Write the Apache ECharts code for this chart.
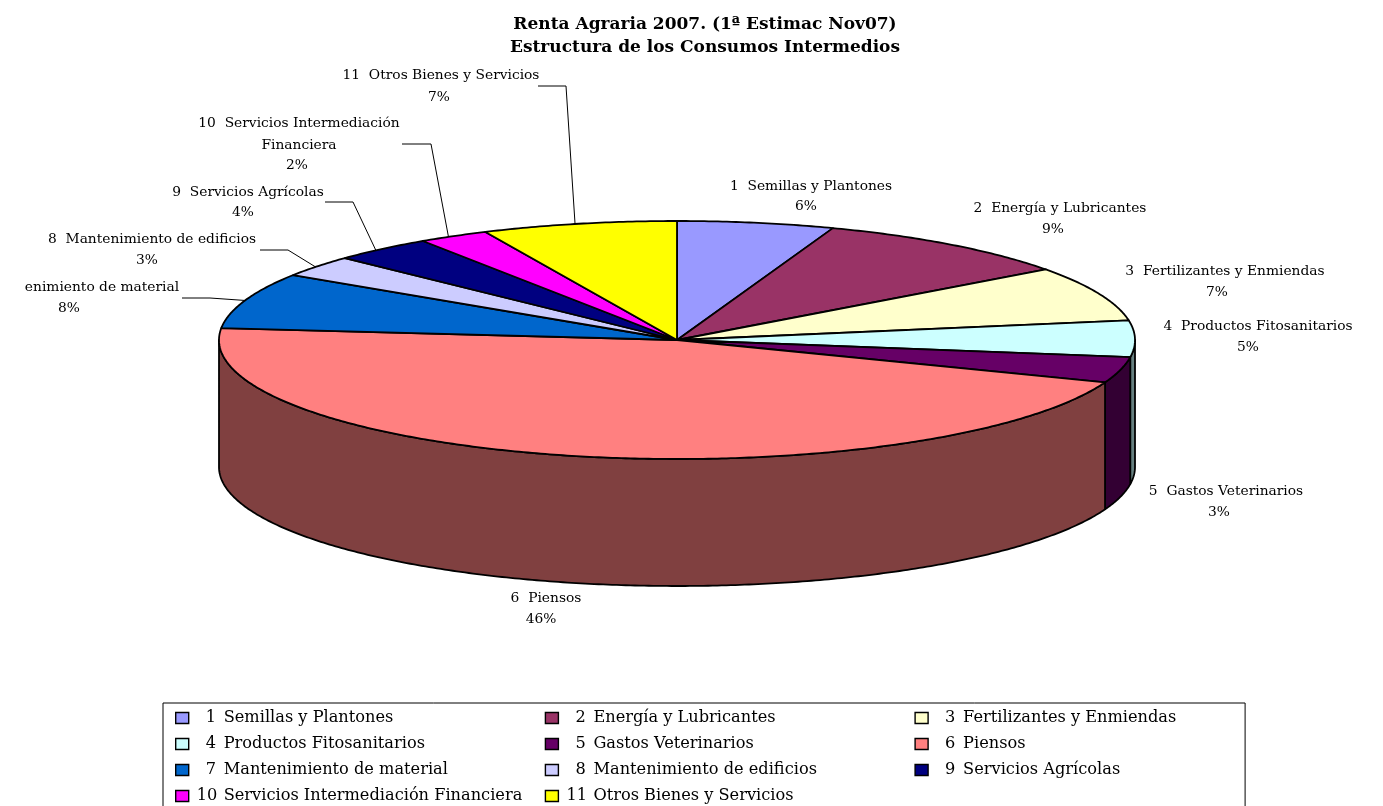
<!DOCTYPE html>
<html>
<head>
<meta charset="utf-8">
<title>Renta Agraria 2007</title>
<style>
    html, body { margin: 0; padding: 0; background: #fff; }
    #main { width: 1383px; height: 806px; }
</style>
<script src="https://cdn.jsdelivr.net/npm/echarts@6/dist/echarts.min.js"></script>
</head>
<body>
<div id="main"></div>
<script>
var numbers = ['1', '2', '3', '4', '5', '6', '7', '8', '9', '10', '11'];
var categories = [
    'Semillas y Plantones', 'Energía y Lubricantes', 'Fertilizantes y Enmiendas',
    'Productos Fitosanitarios', 'Gastos Veterinarios', 'Piensos',
    'Mantenimiento de material', 'Mantenimiento de edificios', 'Servicios Agrícolas',
    'Servicios Intermediación Financiera', 'Otros Bienes y Servicios'
];
var values = [5.53, 9.37, 7.45, 4.95, 3.49, 45.8, 7.6, 2.9, 3.55, 2.49, 6.87];
var colors = ['#9999FF', '#993366', '#FFFFCC', '#CCFFFF', '#660066', '#FF8080',
    '#0066CC', '#CCCCFF', '#000080', '#FF00FF', '#FFFF00'];
var wallColors = ['#4D4D80', '#4D1A33', '#808066', '#668080', '#330033', '#804040',
    '#003366', '#666680', '#000040', '#800080', '#808000'];

// text as it shows next to each slice (7 is cut off by the chart edge in the picture)
var sliceLabels = [
    ['1  Semillas y Plantones'], ['2  Energía y Lubricantes'], ['3  Fertilizantes y Enmiendas'],
    ['4  Productos Fitosanitarios'], ['5  Gastos Veterinarios'], ['6  Piensos'],
    ['enimiento de material'], ['8  Mantenimiento de edificios'], ['9  Servicios Agrícolas'],
    ['10  Servicios Intermediación', 'Financiera'], ['11  Otros Bienes y Servicios']
];

// pie geometry
var cx = 677, cy = 340, rx = 458, ry = 119, depth = 127;
var serif = '"DejaVu Serif", serif';

// label layout: x of name, x of percent, y of each line, leader start + elbow, where it meets the rim
var labelLayout = [
    { x: 811, px: 806, y: [186, 206] },
    { x: 1060, px: 1053, y: [208, 229] },
    { x: 1225, px: 1217, y: [271, 292] },
    { x: 1258, px: 1248, y: [326, 347] },
    { x: 1226, px: 1219, y: [491, 512] },
    { x: 546, px: 541, y: [598, 619] },
    { x: 102, px: 69, y: [287, 308], leader: [[182, 298], [210, 298]], at: 0.5 },
    { x: 152, px: 147, y: [239, 260], leader: [[260, 250], [288, 250]], at: 0.46 },
    { x: 248, px: 243, y: [192, 212], leader: [[325, 202], [353, 202]], at: 0.42 },
    { x: 299, px: 297, y: [123, 145, 165], leader: [[402, 144], [431, 144]], at: 0.42 },
    { x: 441, px: 439, y: [75, 97], leader: [[538, 86], [566, 86]], at: 0.48 }
];

var total = values.reduce(function (a, b) { return a + b; }, 0);
var starts = [];
values.reduce(function (sum, v, i) { starts[i] = sum; return sum + v; }, 0);

function toAngle(v) {
    return v / total * Math.PI * 2;
}

function edgePoint(a, drop) {
    return [cx + rx * Math.sin(a), cy - ry * Math.cos(a) + (drop || 0)];
}

function arcPoints(a0, a1, drop) {
    var pts = [];
    var n = Math.max(2, Math.ceil((a1 - a0) / 0.01));
    for (var k = 0; k <= n; k++) {
        pts.push(edgePoint(a0 + (a1 - a0) * k / n, drop));
    }
    return pts;
}

function textEl(text, x, y) {
    return {
        type: 'text',
        style: {
            x: x, y: y, text: text, fill: '#000',
            fontFamily: serif, fontSize: 13.8,
            textAlign: 'center', textVerticalAlign: 'middle'
        }
    };
}

function renderSlice(i, params, api) {
    var a0 = toAngle(starts[i]);
    var a1 = toAngle(starts[i] + api.value(0));
    var children = [];
    var lineStyle = { stroke: '#000', lineWidth: 1.8, lineJoin: 'round' };

    // outer wall, only the front half of the ring is visible
    var w0 = Math.max(a0, Math.PI / 2), w1 = Math.min(a1, Math.PI * 1.5);
    if (w1 > w0) {
        children.push({
            type: 'polygon',
            shape: { points: arcPoints(w0, w1, 0).concat(arcPoints(w0, w1, depth).reverse()) },
            style: Object.assign({ fill: wallColors[i] }, lineStyle)
        });
    }

    // top face
    children.push({
        type: 'polygon',
        shape: { points: [[cx, cy]].concat(arcPoints(a0, a1, 0)) },
        style: Object.assign({ fill: colors[i] }, lineStyle)
    });

    // leader line, ends on the rim of the slice
    var lay = labelLayout[i];
    if (lay.leader) {
        children.push({
            type: 'polyline',
            shape: { points: lay.leader.concat([edgePoint(a0 + (a1 - a0) * lay.at)]) },
            style: { stroke: '#000', lineWidth: 1, fill: null }
        });
    }

    sliceLabels[i].forEach(function (line, k) {
        children.push(textEl(line, lay.x, lay.y[k]));
    });
    children.push(textEl(Math.round(api.value(0)) + '%', lay.px, lay.y[lay.y.length - 1]));

    return { type: 'group', children: children };
}

function legendToken(w) {
    return {
        width: w, height: 26, lineHeight: 26, align: 'left',
        fontFamily: serif, fontSize: 16.2, color: '#000',
        backgroundColor: 'rgba(255,255,255,0)'
    };
}

var legendRich = {
    pad1: legendToken(12),
    pad2: legendToken(3),
    n1: legendToken(18),
    n2: legendToken(27),
    col: legendToken(321),
    last: legendToken(278)
};

var chart = echarts.init(document.getElementById('main'), null, { renderer: 'canvas' });

var option = {
    animation: false,
    backgroundColor: '#fff',
    title: {
        text: 'Renta Agraria 2007. (1ª Estimac Nov07)\nEstructura de los Consumos Intermedios',
        left: 700,
        top: 8,
        textAlign: 'center',
        textStyle: {
            fontFamily: serif,
            fontSize: 17,
            fontWeight: 'bold',
            lineHeight: 23,
            color: '#000'
        }
    },
    legend: {
        left: 163,
        top: 703,
        width: 1072,
        padding: [2, 4, 0, 12],
        itemGap: 0,
        itemWidth: 13,
        itemHeight: 11,
        icon: 'rect',
        selectedMode: false,
        borderColor: '#000',
        borderWidth: 1,
        itemStyle: { borderColor: '#000', borderWidth: 1.4 },
        data: categories,
        formatter: function (name) {
            var i = categories.indexOf(name);
            var wide = numbers[i].length > 1;
            return '{' + (wide ? 'pad2' : 'pad1') + '| }{' + (wide ? 'n2' : 'n1') + '|' + numbers[i] + '}' +
                '{' + (i % 3 === 2 ? 'last' : 'col') + '|' + name + '}';
        },
        textStyle: { rich: legendRich, color: '#000' }
    },
    series: categories.map(function (name, i) {
        return {
            type: 'custom',
            name: name,
            coordinateSystem: 'none',
            silent: true,
            clip: false,
            itemStyle: { color: colors[i] },
            data: [[values[i]]],
            renderItem: function (params, api) {
                return renderSlice(i, params, api);
            }
        };
    })
};

chart.setOption(option);
</script>
</body>
</html>
